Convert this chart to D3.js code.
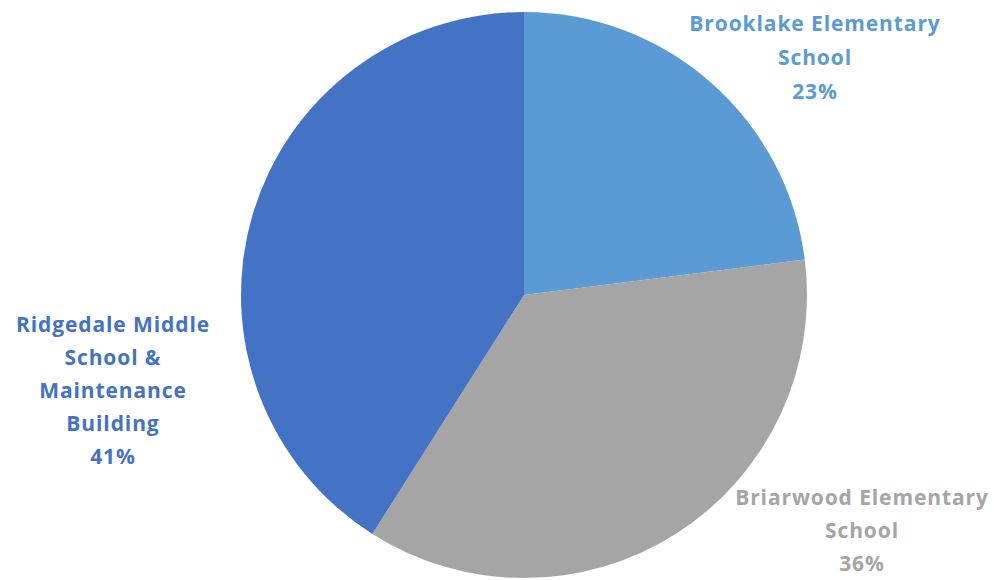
<!DOCTYPE html>
<html>
<head>
<meta charset="utf-8">
<script src="https://cdn.jsdelivr.net/npm/d3@7"></script>
<style>
  body { margin: 0; background: #fff; }
  .label { font-family: "Open Sans", Lato, sans-serif; font-weight: bold; font-size: 21px; letter-spacing: 0.9px; text-anchor: middle; }
</style>
</head>
<body>
<div id="chart-area"></div>
<script>
// slices go clockwise from 12 o'clock
var schools = ["Brooklake Elementary School", "Briarwood Elementary School", "Ridgedale Middle School & Maintenance Building"];
var shares = [23, 36, 41];
var colors = ["#5b9bd5", "#a5a5a5", "#4472c4"];
var labelLines = [
    ["Brooklake Elementary", "School", "23%"],
    ["Briarwood Elementary", "School", "36%"],
    ["Ridgedale Middle", "School &", "Maintenance", "Building", "41%"]
];
// label block centers (x, first baseline)
var labelPos = [[815, 31], [862, 505], [113, 332]];
var lineStep = [34, 33, 33];

var width = 994, height = 580;
var cx = 524, cy = 295, radius = 283;

var svg = d3.select("#chart-area").append("svg")
    .attr("width", width)
    .attr("height", height);

var pie = d3.pie().sort(null).value(function (d) { return d; });
var arc = d3.arc().innerRadius(0).outerRadius(radius);

var g = svg.append("g")
    .attr("transform", "translate(" + cx + "," + cy + ")");

g.selectAll("path")
    .data(pie(shares))
    .enter().append("path")
    .attr("d", arc)
    .attr("fill", function (d, i) { return colors[i]; });

// labels
schools.forEach(function (s, i) {
    var t = svg.append("text")
        .attr("class", "label")
        .attr("fill", colors[i]);
    labelLines[i].forEach(function (line, j) {
        t.append("tspan")
            .attr("x", labelPos[i][0])
            .attr("y", labelPos[i][1] + j * lineStep[i])
            .text(line);
    });
});
</script>
</body>
</html>
